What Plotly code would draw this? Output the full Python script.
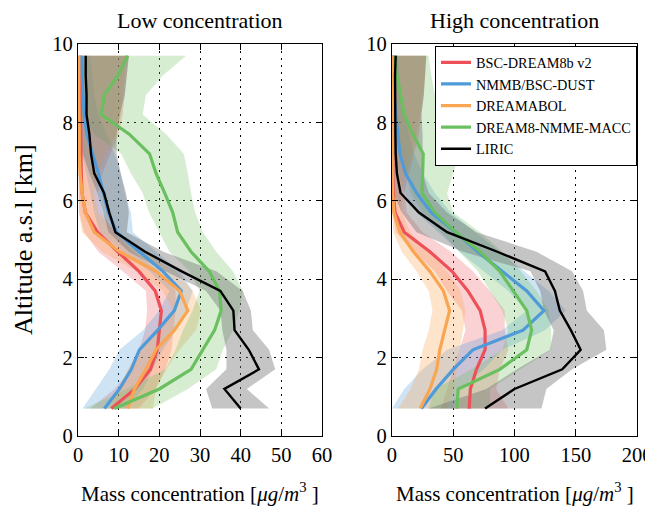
import plotly.graph_objects as go

altitude = [0.7, 1.2, 1.7, 2.2, 2.7, 3.2, 3.7, 4.2, 4.7, 5.2, 5.7, 6.2, 6.7, 7.2, 7.7, 8.2, 8.7, 9.2, 9.7]

series_names = ["BSC-DREAM8b v2", "NMMB/BSC-DUST", "DREAMABOL", "DREAM8-NMME-MACC", "LIRIC"]

# ---- Low concentration (left) ----
low_bsc = [8.2, 14.0, 17.8, 19.5, 20.0, 20.5, 19.0, 15.0, 9.8, 4.8, 1.8, 1.0, 0.8, 0.7, 0.6, 0.6, 0.5, 0.5, 0.5]
low_bsc_lo = [3, 9, 13, 15, 16.5, 17, 16.7, 11, 5, 1.5, 0.3, 0.2, 0.1, 0.1, 0.1, 0.1, 0.1, 0.1, 0.1]
low_bsc_hi = [15, 19, 21.5, 23, 23.5, 24, 24, 20, 13.5, 9, 6, 5, 6, 8, 10, 11, 11.5, 12, 12.5]

low_nmmb = [6.5, 10.2, 13.1, 15.1, 19.6, 23.7, 25.4, 20.9, 15.1, 9.5, 7.5, 6.3, 5.0, 3.6, 2.2, 1.5, 1.2, 1.0, 0.9]
low_nmmb_lo = [1.1, 4.4, 7.7, 10.2, 16, 20, 22.5, 17.6, 11, 5.3, 4, 3, 2, 1, 0.5, 0.3, 0.3, 0.3, 0.3]
low_nmmb_hi = [11.8, 16, 18.4, 20.9, 24, 26.6, 28.2, 25, 19.2, 13.5, 13, 11.5, 10.5, 9, 7, 5, 4, 3.5, 3]

low_dreamabol = [12.2, 13.9, 16.7, 19.2, 23.7, 27.0, 25.0, 19.2, 10.2, 4.0, 1.8, 1.0, 0.5, 0.3, 0.3, 0.2, 0.2, 0.2, 0.2]
low_dreamabol_lo = [7.7, 10, 12.2, 15, 19.2, 23.3, 20.9, 14.3, 6, 1, 0.2, 0.1, 0.1, 0.05, 0.05, 0.05, 0.05, 0.05, 0.05]
low_dreamabol_hi = [18.4, 19.2, 21.7, 25, 29, 30.3, 28.2, 24, 16, 9, 5, 4, 5, 7, 9.5, 10.5, 11, 11.5, 12]

low_macc = [8.9, 20.0, 27.8, 30.7, 33.6, 35.2, 34.8, 32.3, 27.8, 24.5, 23.3, 21.3, 19.2, 17.6, 12.6, 5.7, 6.5, 9.8, 12.2]
low_macc_lo = [1.5, 12, 21.5, 24, 25.8, 28.2, 29.9, 27.4, 22.5, 20, 17.5, 15.9, 13, 10.6, 4, 0.5, 0.3, 0.3, 0.3]
low_macc_hi = [18.4, 27, 34, 35.6, 38.1, 39.7, 40.6, 38.1, 34, 30.7, 28.8, 27.8, 27, 26, 21.7, 15.9, 16.7, 20.9, 26.6]

low_liric = [40.0, 36.0, 44.5, 42.0, 38.5, 38.2, 35.0, 25.5, 16.5, 9.2, 7.7, 6.4, 4.0, 3.2, 2.8, 2.1, 2.1, 1.9, 1.9]
low_liric_lo = [33, 31.5, 36.5, 36.5, 35.5, 35, 31.5, 21.5, 12.5, 7.5, 6.2, 4.8, 2.8, 1.2, 0.5, 0.3, 0.2, 0.2, 0.2]
low_liric_hi = [47, 41.5, 48.5, 47, 43, 42.5, 40.5, 34, 21, 12, 12.5, 11.8, 10.5, 9.5, 9.5, 10.3, 11.5, 12, 12.5]

# ---- High concentration (right) ----
high_bsc = [63, 64, 69, 76, 76, 72, 62, 49, 31, 10, 2.5, 1.0, 0.6, 0.5, 0.5, 0.5, 0.5, 0.5, 0.5]
high_bsc_lo = [40, 45, 50, 55, 60, 57, 45, 35, 18, 3, 0.5, 0.2, 0.1, 0.1, 0.1, 0.1, 0.1, 0.1, 0.1]
high_bsc_hi = [95, 85, 88, 95, 92, 92, 80, 66, 48, 25, 12, 10, 14, 18, 22, 24, 26, 27, 28]

high_nmmb = [24, 36, 50, 66, 107, 124, 110, 90, 70, 52, 32, 20, 11, 6.5, 4.5, 3, 1.8, 1.2, 1.0]
high_nmmb_lo = [0, 10, 25, 45, 90, 110, 95, 75, 55, 38, 20, 10, 5, 3, 2, 1, 0.5, 0.5, 0.5]
high_nmmb_hi = [50, 55, 75, 90, 125, 142, 128, 108, 88, 68, 48, 35, 25, 18, 14, 10, 8, 6, 5]

high_dreamabol = [23, 31, 36.5, 39, 43, 47, 42, 31, 17.5, 6.5, 1.5, 0.5, 0.3, 0.3, 0.3, 0.3, 0.3, 0.3, 0.3]
high_dreamabol_lo = [5, 15, 22, 25, 30, 33, 30, 20, 8, 1, 0.2, 0.1, 0.1, 0.1, 0.1, 0.1, 0.1, 0.1, 0.1]
high_dreamabol_hi = [45, 50, 53, 55, 58, 60, 56, 45, 30, 15, 8, 8, 12, 16, 20, 23, 25, 27, 28]

high_macc = [53, 54, 88, 110, 114, 110, 99, 88, 72, 52, 35, 24.5, 25, 25.5, 17, 10, 7, 4, 2.5]
high_macc_lo = [30, 35, 65, 90, 95, 90, 80, 70, 55, 40, 25, 15, 12, 8, 3, 1, 0.5, 0.3, 0.3]
high_macc_hi = [80, 80, 105, 130, 130, 128, 118, 105, 90, 72, 50, 45, 50, 55, 50, 40, 35, 32, 30]

high_liric = [76, 100, 139, 154, 146, 137, 133, 125, 86, 45, 22, 7, 4, 3, 2.8, 2.6, 2.5, 2.5, 3.0]
high_liric_lo = [30, 77, 102, 129, 132, 124, 121, 113, 58, 20, 8, 1, 0.5, 0.3, 0.3, 0.3, 0.3, 0.3, 0.3]
high_liric_hi = [122, 126, 147, 175, 173, 159, 156, 147, 118, 69, 45, 30, 25, 25, 25, 24, 26, 27, 28]

x_ticks_low = [0, 10, 20, 30, 40, 50, 60]
x_ticks_high = [0, 50, 100, 150, 200]
y_ticks = [0, 2, 4, 6, 8, 10]

line_colors = ["#EE5058", "#4F9AD8", "#F9A552", "#6ABF5E", "#000000"]
fill_colors = ["rgba(238,80,88,0.26)", "rgba(79,154,216,0.28)", "rgba(249,165,82,0.30)",
               "rgba(106,191,94,0.28)", "rgba(110,110,110,0.40)"]
line_widths = [3.2, 3.2, 3.2, 3.2, 2.4]

low_sets = [(low_bsc, low_bsc_lo, low_bsc_hi), (low_nmmb, low_nmmb_lo, low_nmmb_hi),
            (low_dreamabol, low_dreamabol_lo, low_dreamabol_hi), (low_macc, low_macc_lo, low_macc_hi),
            (low_liric, low_liric_lo, low_liric_hi)]
high_sets = [(high_bsc, high_bsc_lo, high_bsc_hi), (high_nmmb, high_nmmb_lo, high_nmmb_hi),
             (high_dreamabol, high_dreamabol_lo, high_dreamabol_hi), (high_macc, high_macc_lo, high_macc_hi),
             (high_liric, high_liric_lo, high_liric_hi)]

fig = go.Figure()
FONT = "Liberation Serif, Times New Roman, serif"

for sets, xa, ya, show in [(low_sets, "x", "y", False), (high_sets, "x2", "y2", True)]:
    for i, (mid, lo, hi) in enumerate(sets):
        fig.add_trace(go.Scatter(
            x=list(hi) + list(lo)[::-1], y=list(altitude) + list(altitude)[::-1],
            fill="toself", fillcolor=fill_colors[i], line=dict(width=0),
            mode="lines", hoverinfo="skip", showlegend=False, xaxis=xa, yaxis=ya))
    for i, (mid, lo, hi) in enumerate(sets):
        fig.add_trace(go.Scatter(
            x=mid, y=altitude, mode="lines", name=series_names[i],
            line=dict(color=line_colors[i], width=line_widths[i]),
            showlegend=show, xaxis=xa, yaxis=ya))

axis_common = dict(showline=True, linecolor="black", linewidth=1.3, mirror="ticks",
                   ticks="inside", ticklen=6, tickwidth=1.2, tickcolor="black",
                   showgrid=True, gridcolor="black", gridwidth=1, griddash="2px,5px",
                   zeroline=False, automargin=False,
                   tickfont=dict(size=20.5, color="black", family=FONT))

fig.update_layout(
    width=645, height=499,
    margin=dict(l=70, r=16, t=36, b=71, autoexpand=False),
    paper_bgcolor="white", plot_bgcolor="white",
    font=dict(family=FONT, color="black"),
    xaxis=dict(domain=[0, 0.4365], range=[0, 60], tickvals=x_ticks_low, **axis_common),
    yaxis=dict(range=[0, 10], tickvals=y_ticks, **axis_common),
    xaxis2=dict(domain=[0.5617, 1], range=[0, 200], tickvals=x_ticks_high, anchor="y2", **axis_common),
    yaxis2=dict(range=[0, 10], tickvals=y_ticks, anchor="x2", **axis_common),
    legend=dict(x=1.0, y=0.996, xanchor="right", yanchor="top",
                bgcolor="white", bordercolor="black", borderwidth=1,
                font=dict(size=14.3, family=FONT, color="black"),
                tracegroupgap=0, itemwidth=30),
    showlegend=True,
    annotations=[
        dict(text="Low concentration", x=0.218, y=1.0, xref="paper", yref="paper",
             xanchor="center", yanchor="middle", yshift=24, showarrow=False,
             font=dict(size=22, family=FONT)),
        dict(text="High concentration", x=0.781, y=1.0, xref="paper", yref="paper",
             xanchor="center", yanchor="middle", yshift=24, showarrow=False,
             font=dict(size=22, family=FONT)),
        dict(text="Mass concentration [<i>μg</i>/<i>m</i><sup>3</sup> ]", x=0.218, y=0, xref="paper", yref="paper",
             xanchor="center", yanchor="middle", yshift=-56, showarrow=False,
             font=dict(size=21, family=FONT)),
        dict(text="Mass concentration [<i>μg</i>/<i>m</i><sup>3</sup> ]", x=0.781, y=0, xref="paper", yref="paper",
             xanchor="center", yanchor="middle", yshift=-56, showarrow=False,
             font=dict(size=21, family=FONT)),
        dict(text="Altitude a.s.l [km]", x=0, y=0.5, xref="paper", yref="paper",
             xanchor="center", yanchor="middle", xshift=-55, textangle=-90, showarrow=False,
             font=dict(size=26, family=FONT)),
    ],
)

fig.write_html("out.html")
